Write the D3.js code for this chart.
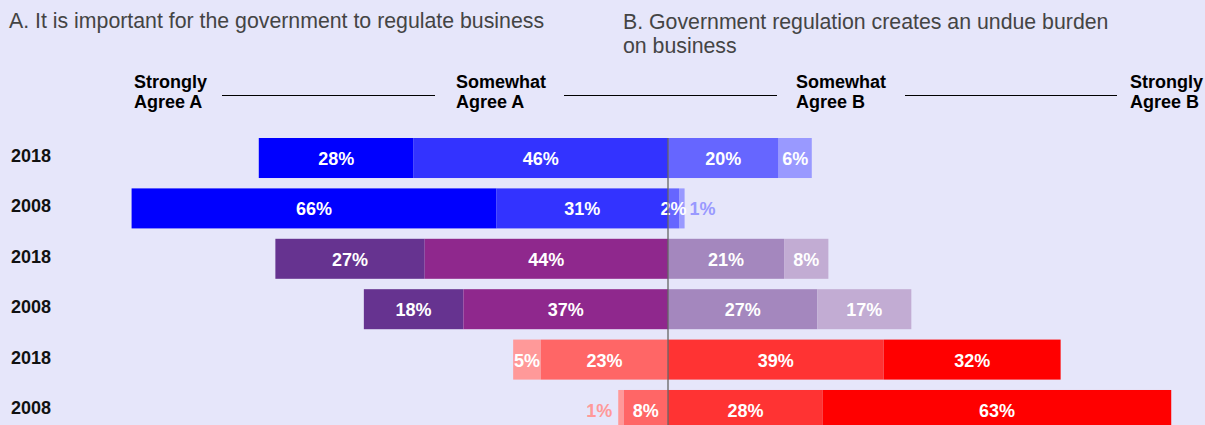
<!DOCTYPE html>
<html>
<head>
<meta charset="utf-8">
<script src="https://cdn.jsdelivr.net/npm/d3@7"></script>
<style>
  body { margin: 0; background: #E6E6FA; }
  svg { display: block; font-family: "Liberation Sans", Arial, Helvetica, sans-serif; }
</style>
</head>
<body>
<div id="chart"></div>
<script>
// rows, top to bottom
const years = ["2018", "2008", "2018", "2008", "2018", "2008"];
const stronglyA = [28, 66, 27, 18, 5, 1];
const somewhatA = [46, 31, 44, 37, 23, 8];
const somewhatB = [20, 2, 21, 27, 39, 28];
const stronglyB = [6, 1, 8, 17, 32, 63];

const rowPalette = [
    ["#0000FF", "#3333FF", "#6666FF", "#9999FF"],
    ["#0000FF", "#3333FF", "#6666FF", "#9999FF"],
    ["#663390", "#8F288D", "#A487BE", "#C2ACD3"],
    ["#663390", "#8F288D", "#A487BE", "#C2ACD3"],
    ["#FF9999", "#FF6666", "#FF3333", "#FF0000"],
    ["#FF9999", "#FF6666", "#FF3333", "#FF0000"]
];

const headers = [
    ["Strongly", "Agree A"],
    ["Somewhat", "Agree A"],
    ["Somewhat", "Agree B"],
    ["Strongly", "Agree B"]
];

const W = 1205, H = 425;

const svg = d3.select("#chart").append("svg")
    .attr("width", W)
    .attr("height", H);

svg.append("rect").attr("width", W).attr("height", H).attr("fill", "#E6E6FA");

// percent scale, negative = side A
const x = d3.scaleLinear().domain([-100, 100]).range([115, 1221]);

const y = d3.scaleBand()
    .domain(d3.range(years.length))
    .range([138, 430])
    .paddingInner(0.206)
    .paddingOuter(0);

// question titles
svg.append("text")
    .attr("x", 9).attr("y", 28)
    .attr("font-size", 21.3).attr("fill", "#444")
    .text("A. It is important for the government to regulate business");

const tB = svg.append("text")
    .attr("x", 623).attr("y", 29)
    .attr("font-size", 21.3).attr("fill", "#444");
tB.append("tspan").attr("x", 623).text("B. Government regulation creates an undue burden");
tB.append("tspan").attr("x", 623).attr("dy", 24).text("on business");

// column headers with rules between them
const headerX = [134, 456, 796, 1130];
const ruleX = [[222, 435], [564, 777], [905, 1117]];

headers.forEach((h, i) => {
    const t = svg.append("text")
        .attr("x", headerX[i]).attr("y", 88)
        .attr("font-size", 18).attr("font-weight", "bold").attr("fill", "#000");
    t.append("tspan").attr("x", headerX[i]).text(h[0]);
    t.append("tspan").attr("x", headerX[i]).attr("dy", 20).text(h[1]);
});

ruleX.forEach(r => {
    svg.append("line")
        .attr("x1", r[0]).attr("x2", r[1])
        .attr("y1", 95.5).attr("y2", 95.5)
        .attr("stroke", "#000").attr("stroke-width", 1.2);
});

// build segments
const segs = [];
years.forEach((yr, i) => {
    const vals = [stronglyA[i], somewhatA[i], somewhatB[i], stronglyB[i]];
    const starts = [-(vals[0] + vals[1]), -vals[1], 0, vals[2]];
    vals.forEach((v, k) => {
        segs.push({row: i, k: k, v: v, x0: starts[k], x1: starts[k] + v, color: rowPalette[i][k]});
    });
});

const g = svg.append("g");

g.selectAll("rect.seg")
    .data(segs)
    .join("rect")
    .attr("class", "seg")
    .attr("x", d => x(d.x0))
    .attr("width", d => x(d.x1) - x(d.x0))
    .attr("y", d => y(d.row))
    .attr("height", y.bandwidth())
    .attr("fill", d => d.color);

// centre line
svg.append("line")
    .attr("x1", x(0)).attr("x2", x(0))
    .attr("y1", y(0)).attr("y2", H)
    .attr("stroke", "#666").attr("stroke-width", 1.3);

// value labels
g.selectAll("text.val")
    .data(segs)
    .join("text")
    .attr("class", "val")
    .attr("font-size", 18)
    .attr("font-weight", "bold")
    .attr("x", d => {
        if (d.v >= 2) return (x(d.x0) + x(d.x1)) / 2;
        return d.k < 2 ? x(d.x0) - 6 : x(d.x1) + 5;
    })
    .attr("text-anchor", d => d.v >= 2 ? "middle" : (d.k < 2 ? "end" : "start"))
    .attr("y", d => y(d.row) + 27)
    .attr("fill", d => d.v >= 2 ? "#fff" : d.color)
    .text(d => d.v + "%");

// year labels
svg.selectAll("text.year")
    .data(years)
    .join("text")
    .attr("class", "year")
    .attr("x", 11)
    .attr("y", (d, i) => y(i) + 24)
    .attr("font-size", 18)
    .attr("font-weight", "bold")
    .attr("fill", "#111")
    .text(d => d);
</script>
</body>
</html>
